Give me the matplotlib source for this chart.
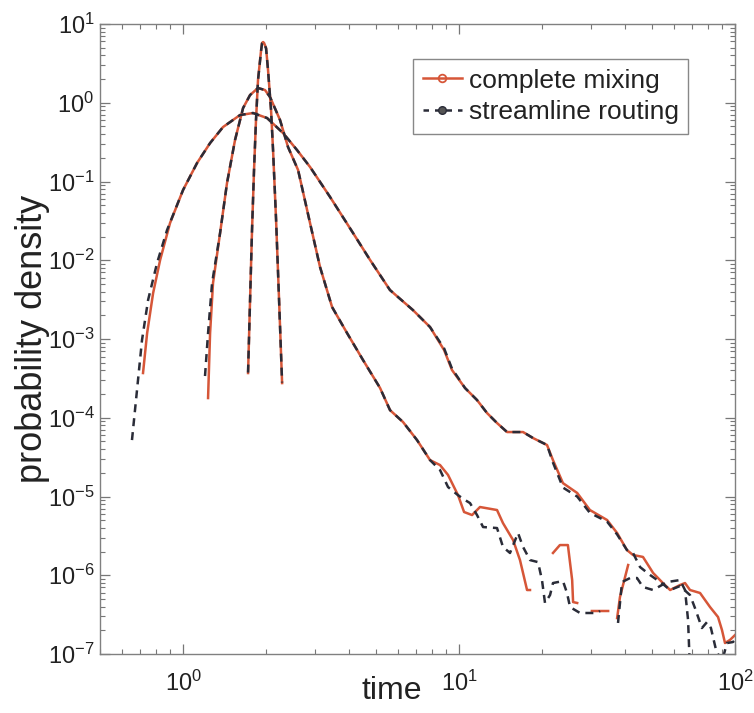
import numpy as np
import matplotlib
matplotlib.use("Agg")
import matplotlib.pyplot as plt
from matplotlib.lines import Line2D
from matplotlib.ticker import LogLocator, NullFormatter

plt.rcParams['font.family'] = ['Liberation Sans', 'DejaVu Sans']
plt.rcParams['mathtext.fontset'] = 'custom'
plt.rcParams['mathtext.rm'] = 'Liberation Sans'
plt.rcParams['mathtext.it'] = 'Liberation Sans:italic'
plt.rcParams['mathtext.bf'] = 'Liberation Sans:bold'

nan = np.nan

# widest distribution
t_mix_wide = [0.716, 0.741, 0.779, 0.826, 0.897, 1.0, 1.124, 1.253, 1.396, 1.609,
              1.793, 2.016, 2.303, 2.588, 2.885, 3.41, 4.13, 4.76, 5.62, 6.81,
              7.85, 8.83, 9.43, 10.51, 11.62, 12.63, 13.73, 14.93, 17.06, 18.54,
              20.84, 21.9, 23.8, 26.8, 29.8, 34.4, 37.4, 40.6, 42.7, 46.4,
              50.5, 54.8, 58.2, 63.2, 65.9, 68.7, 74.7, 81.2, 86.8, 89.7,
              92.0, 95.9, 100]
p_mix_wide = [3.7e-4, 1.19e-3, 3.84e-3, 1.01e-2, 2.97e-2, 7.8e-2, 0.172, 0.308, 0.492, 0.699,
              0.741, 0.640, 0.413, 0.251, 0.153, 0.0636, 0.0222, 0.0101, 4.19e-3, 2.33e-3,
              1.42e-3, 7.24e-4, 4.04e-4, 2.39e-4, 1.68e-4, 1.15e-4, 8.58e-5, 6.59e-5, 6.59e-5, 5.53e-5,
              4.51e-5, 2.9e-5, 1.48e-5, 1.11e-5, 6.74e-6, 5.03e-6, 3.44e-6, 2.09e-6, 1.81e-6, 1.71e-6,
              1.07e-6, 7.97e-7, 6.5e-7, 7.52e-7, 7.97e-7, 6.5e-7, 5.96e-7, 3.95e-7, 2.95e-7, 2.02e-7,
              1.38e-7, 1.51e-7, 1.74e-7]

t_route_wide = [0.653, 0.681, 0.710, 0.747, 0.805, 0.875, 1.0, 1.124, 1.253, 1.396,
                1.609, 1.793, 2.016, 2.303, 2.588, 2.885, 3.41, 4.13, 4.76, 5.62,
                6.81, 7.85, 8.83, 9.43, 10.51, 11.62, 12.63, 13.73, 14.93, 17.06,
                18.54, 20.84, 21.9, 23.8, 26.8, 29.8, 34.4, 37.4, 40.6, 42.7,
                45.3, 49.2, 54.8, 58.2, 63.2, 68.7, 71.6, 75.9, 79.2, 81.8,
                85.4, 89.7, 93.5, 98.3, 100]
p_route_wide = [5.21e-5, 2.25e-4, 9.7e-4, 3.13e-3, 9.23e-3, 2.42e-2, 7.8e-2, 0.172, 0.308, 0.492,
                0.699, 0.741, 0.640, 0.413, 0.251, 0.153, 0.0636, 0.0222, 0.0101, 4.19e-3,
                2.33e-3, 1.42e-3, 7.6e-4, 4.2e-4, 2.39e-4, 1.68e-4, 1.15e-4, 8.58e-5, 6.59e-5, 6.59e-5,
                5.53e-5, 4.51e-5, 2.7e-5, 1.3e-5, 1.0e-5, 6.2e-6, 4.8e-6, 3.3e-6, 2.09e-6, 1.92e-6,
                1.27e-6, 1.01e-6, 7.75e-7, 6.5e-7, 7.3e-7, 5.61e-7, 3.84e-7, 2.14e-7, 2.55e-7, 2.14e-7,
                1.12e-7, 8e-8, 1.38e-7, 1.42e-7, 1.51e-7]

# middle distribution (nan = empty bins)
t_mix_mid = [1.232, 1.253, 1.284, 1.362, 1.443, 1.543, 1.650, 1.749, 1.869, 1.982,
             2.067, 2.246, 2.401, 2.611, 2.885, 3.136, 3.467, 3.929, 4.489, 5.174,
             5.623, 6.268, 7.044, 7.853, 8.535, 9.123, 9.917, 10.43, 11.15, 11.91,
             13.73, 14.43, 15.70, 16.63, 17.64, 18.08, 20.0, 21.9, 23.2, 24.8,
             25.7, 25.9, 26.8, 28.5, 30.3, 34.7, 36.0, 37.4, 38.3, 41.0]
p_mix_mid = [1.78e-4, 1.19e-3, 5.14e-3, 0.0222, 0.0957, 0.337, 0.858, 1.254, 1.54, 1.45,
             1.18, 0.604, 0.274, 0.140, 0.0297, 8.2e-3, 2.55e-3, 1.19e-3, 5.41e-4, 2.39e-4,
             1.25e-4, 8.83e-5, 5.21e-5, 2.9e-5, 2.51e-5, 1.88e-5, 1.04e-5, 6.36e-6, 5.82e-6, 7.36e-6,
             6.74e-6, 4.6e-6, 2.8e-6, 1.56e-6, 6.5e-7, 6.5e-7, nan, 1.92e-6, 2.42e-6, 2.42e-6,
             8.7e-7, 4.57e-7, 4.45e-7, nan, 3.52e-7, 3.52e-7, nan, 2.86e-7, 5.3e-7, 1.35e-6]

t_route_mid = [1.201, 1.232, 1.274, 1.362, 1.443, 1.543, 1.650, 1.749, 1.869, 1.982,
               2.067, 2.246, 2.401, 2.611, 2.885, 3.136, 3.467, 3.929, 4.489, 5.174,
               5.623, 6.268, 7.044, 7.853, 8.535, 9.123, 9.917, 10.51, 10.96, 11.62,
               12.22, 13.73, 14.43, 15.30, 16.36, 17.06, 18.08, 19.33, 19.98, 20.49,
               21.37, 21.9, 23.8, 24.62, 25.25, 27.44, 31.62, 32.43, 35.0, 37.68,
               38.96, 41.66, 44.15, 46.4, 50.5, 56.7, 63.2, 65.9, 67.6, 68.7]
p_route_mid = [3.39e-4, 1.19e-3, 5.14e-3, 0.0222, 0.0957, 0.337, 0.858, 1.254, 1.54, 1.45,
               1.18, 0.604, 0.274, 0.140, 0.0297, 8.2e-3, 2.55e-3, 1.19e-3, 5.41e-4, 2.39e-4,
               1.25e-4, 8.83e-5, 5.21e-5, 2.9e-5, 2.17e-5, 1.32e-5, 1.04e-5, 9.03e-6, 8.26e-6, 5.82e-6,
               4.1e-6, 3.98e-6, 2.29e-6, 1.92e-6, 3.44e-6, 2.29e-6, 1.56e-6, 1.47e-6, 8.7e-7, 4.45e-7,
               5.61e-7, 7.97e-7, 8.45e-7, 5.96e-7, 3.95e-7, 3.32e-7, 3.32e-7, 3.52e-7, nan, 2.48e-7,
               8.2e-7, 9.23e-7, 9.23e-7, 7.1e-7, 6.5e-7, 8.2e-7, 8.7e-7, 6.5e-7, 2.7e-7, 6e-8]

# narrow distribution
t_mix_narrow = [1.720, 1.749, 1.778, 1.808, 1.838, 1.869, 1.918, 1.933, 1.950,
                1.966, 1.999, 2.032, 2.084, 2.119, 2.173, 2.228, 2.285]
p_mix_narrow = [3.70e-4, 3.13e-3, 0.0242, 0.140, 0.604, 1.95, 4.68, 5.74, 5.91,
                5.74, 4.95, 2.61, 0.809, 0.251, 0.0324, 3.13e-3, 2.76e-4]
t_route_narrow = [1.720, 1.749, 1.778, 1.808, 1.838, 1.869, 1.918, 1.933, 1.950,
                  1.966, 1.999, 2.032, 2.084, 2.119, 2.173, 2.228, 2.285]
p_route_narrow = [3.75e-4, 3.1e-3, 0.0245, 0.142, 0.61, 1.93, 4.6, 5.7, 5.9,
                  5.7, 4.9, 2.6, 0.80, 0.25, 0.033, 3.1e-3, 2.8e-4]

x_ticks = [1, 10, 100]
y_ticks = [1e-7, 1e-6, 1e-5, 1e-4, 1e-3, 1e-2, 1e-1, 1, 10]

red = '#d65638'
dark = '#2a2c38'
lw = 1.8
dash = (0, (3.2, 2.4))

fig = plt.figure(figsize=(7.54, 7.13), dpi=100)
ax = fig.add_axes([0.1326, 0.0827, 0.8422, 0.8836])

for t, p in [(t_mix_wide, p_mix_wide), (t_mix_mid, p_mix_mid), (t_mix_narrow, p_mix_narrow)]:
    ax.plot(t, p, color=red, lw=lw, solid_joinstyle='round')
for t, p in [(t_route_wide, p_route_wide), (t_route_mid, p_route_mid), (t_route_narrow, p_route_narrow)]:
    ax.plot(t, p, color=dark, lw=lw, linestyle=dash)

ax.set_xscale('log')
ax.set_yscale('log')
ax.set_xticks(x_ticks)
ax.set_yticks(y_ticks)
ax.set_xlim(0.5, 100)
ax.set_ylim(1e-7, 10)

for axis in (ax.xaxis, ax.yaxis):
    axis.set_minor_locator(LogLocator(base=10, subs=np.arange(2, 10), numticks=100))
    axis.set_minor_formatter(NullFormatter())

ax.tick_params(which='both', direction='in', top=True, right=True, color='#777777')
ax.tick_params(which='major', length=7, width=0.9, labelsize=17, labelcolor='#222222')
ax.tick_params(which='minor', length=3.5, width=0.8)
ax.tick_params(axis='y', which='major', pad=4)
ax.tick_params(axis='x', which='major', pad=12)
for s in ax.spines.values():
    s.set_color('#808080')
    s.set_linewidth(1.0)

ax.set_xlabel('time', fontsize=23, color='#222222', va='center')
ax.xaxis.set_label_coords(0.46, -0.058)
ax.set_ylabel('probability density', fontsize=26, color='#222222', va='center')
ax.yaxis.set_label_coords(-0.107, 0.5)

handles = [
    Line2D([], [], color=red, lw=lw, marker='o', markersize=5.5,
           markerfacecolor='none', markeredgecolor=red, markeredgewidth=1.3),
    Line2D([], [], color=dark, lw=lw, linestyle=(0, (2.2, 2.4)), marker='o', markersize=5.5,
           markerfacecolor='#555555', markeredgecolor=dark, markeredgewidth=1.0),
]
leg = ax.legend(handles, ['complete mixing', 'streamline routing'],
                loc='upper right', bbox_to_anchor=(0.926, 0.944), borderaxespad=0,
                fontsize=19, handlelength=1.5, handletextpad=0.25, borderpad=0.35,
                labelspacing=0.3, fancybox=False, framealpha=1, edgecolor='#888888')
leg.get_frame().set_linewidth(1.0)
for txt in leg.get_texts():
    txt.set_color('#222222')

fig.savefig('out.png', dpi=100)
